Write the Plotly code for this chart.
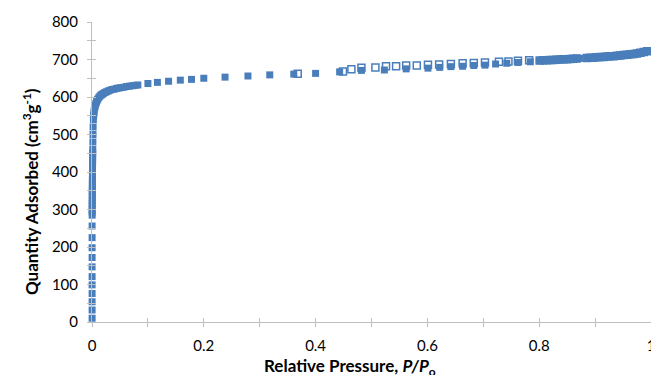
import plotly.graph_objects as go

# Adsorption branch (filled squares)
ads_p = [0.0002, 0.0002, 0.0002, 0.0002, 0.0002, 0.0002, 0.0002, 0.0002, 0.0002, 0.0002, 0.0002,
         0.0003, 0.0003, 0.0003, 0.0004, 0.0004, 0.0004, 0.0005, 0.0005, 0.0005, 0.0006, 0.0006,
         0.0007, 0.0007, 0.0008, 0.0008, 0.0009, 0.0010, 0.0011, 0.0012, 0.0013, 0.0014, 0.0016,
         0.0018, 0.0020,
         0.0025, 0.0030, 0.0035, 0.0040, 0.0050, 0.0060, 0.0070, 0.0080, 0.0090, 0.0100, 0.0120,
         0.0140, 0.0160, 0.0180, 0.0200, 0.0230, 0.0260, 0.0290, 0.0320, 0.0360, 0.0400, 0.0440,
         0.0480, 0.0520, 0.0570, 0.0620, 0.0670, 0.0720, 0.0770, 0.0820,
         0.100, 0.117, 0.137, 0.158, 0.178, 0.200, 0.238, 0.279, 0.318, 0.361, 0.400, 0.443,
         0.482, 0.523, 0.562, 0.601, 0.622, 0.642, 0.663, 0.683, 0.703, 0.722, 0.742, 0.762, 0.784,
         0.800, 0.806, 0.812, 0.818, 0.824, 0.830, 0.836, 0.842, 0.848, 0.854, 0.860, 0.866, 0.872,
         0.886, 0.893, 0.900, 0.906, 0.912, 0.918, 0.924, 0.930, 0.936, 0.942, 0.948, 0.954, 0.960,
         0.966, 0.972, 0.978, 0.984, 0.990, 0.995]
ads_q = [10, 32, 54, 76, 99, 121, 147, 172, 198, 225, 256,
         285, 293, 300, 308, 316, 324, 332, 340, 348, 356, 364,
         372, 380, 390, 400, 410, 420, 430, 440, 450, 460, 480,
         500, 520,
         540, 550, 558, 565, 572, 578, 583, 587, 591, 594, 598,
         602, 605, 607, 609, 612, 614, 616, 618, 620, 621, 623,
         624, 625, 626, 628, 629, 630, 631, 632,
         636, 639, 642, 645, 647, 650, 653, 656, 659, 661, 663, 667,
         671, 672, 675, 677, 679, 681, 682, 684, 685, 688, 690, 692, 694,
         697, 697.5, 698, 698.5, 699, 699.5, 700, 700.5, 701, 701.5, 702, 702.5, 703,
         704, 704.5, 705, 706, 707, 707.5, 708, 709, 710, 711, 712, 713, 714,
         715, 716, 718, 719, 721, 723]

# Desorption branch (open squares)
des_p = [0.993, 0.987, 0.981, 0.975, 0.969, 0.963, 0.957, 0.951, 0.945, 0.939, 0.933, 0.927,
         0.921, 0.915, 0.909, 0.903, 0.897, 0.891, 0.885, 0.867, 0.861, 0.855, 0.849, 0.843,
         0.837, 0.831, 0.825, 0.819, 0.813, 0.807, 0.801,
         0.782, 0.762, 0.745, 0.728, 0.703, 0.683, 0.663, 0.642, 0.621, 0.601, 0.581, 0.562,
         0.544, 0.526, 0.507, 0.482, 0.464, 0.449, 0.368]
des_q = [722, 720, 718, 716, 715, 714, 713, 712, 711, 710, 709, 708.5,
         708, 707, 706.5, 706, 705, 704.5, 704, 702.5, 702, 701.5, 701, 700.5,
         700, 699.5, 699, 698.5, 698, 698, 697.5,
         698, 697, 695, 694, 692, 691, 690, 688, 687, 686, 684, 684,
         682, 682, 679, 678, 674, 668, 662]

x_tickvals = [0, 0.1, 0.2, 0.3, 0.4, 0.5, 0.6, 0.7, 0.8, 0.9, 1.0]
x_ticktext = ["0", "", "0.2", "", "0.4", "", "0.6", "", "0.8", "", "1"]
y_tickvals = [0, 50, 100, 150, 200, 250, 300, 350, 400, 450, 500, 550, 600, 650, 700, 750, 800]
y_ticktext = ["0", "", "100", "", "200", "", "300", "", "400", "", "500", "", "600", "", "700", "", "800"]

x_title = "<b>Relative Pressure, <i>P/P</i><sub>o</sub></b>"
y_title = "<b>Quantity Adsorbed (cm<sup>3</sup>g<sup>-1</sup>)</b>"

blue = "#4A7EBB"
axis_col = "#BFBFBF"
font_fam = "Lato, 'Open Sans', sans-serif"

fig = go.Figure()
fig.add_trace(go.Scatter(x=ads_p, y=ads_q, mode="markers", cliponaxis=False,
                         marker=dict(symbol="square", size=7, color=blue), showlegend=False))
fig.add_trace(go.Scatter(x=des_p, y=des_q, mode="markers", cliponaxis=False,
                         marker=dict(symbol="square-open", size=7, color=blue,
                                     line=dict(width=1.5, color=blue)), showlegend=False))
# empty trace hosting the overlay axes that draw the inner half of the crossing ticks
fig.add_trace(go.Scatter(x=[None], y=[None], xaxis="x2", yaxis="y2", showlegend=False,
                         hoverinfo="skip"))

fig.update_layout(
    width=651, height=367,
    margin=dict(l=84, r=4, t=14, b=53),
    paper_bgcolor="white", plot_bgcolor="white",
    font=dict(family=font_fam, size=15, color="#000000"),
    xaxis=dict(range=[0, 1], tickvals=x_tickvals, ticktext=x_ticktext,
               showgrid=False, zeroline=False, showline=True, linecolor=axis_col, linewidth=1,
               ticks="outside", ticklen=4, tickcolor=axis_col, tickwidth=1,
               tickfont=dict(size=15), ticklabelstandoff=6, ticklabeloverflow="allow"),
    yaxis=dict(range=[0, 800], tickvals=y_tickvals, ticktext=y_ticktext,
               showgrid=False, zeroline=False, showline=True, linecolor=axis_col, linewidth=1,
               ticks="outside", ticklen=4, tickcolor=axis_col, tickwidth=1,
               tickfont=dict(size=15), ticklabelstandoff=6),
    xaxis2=dict(range=[0, 1], overlaying="x", anchor="y2", side="bottom", tickvals=x_tickvals,
                showticklabels=False, showgrid=False, zeroline=False, showline=False,
                ticks="inside", ticklen=4, tickcolor=axis_col, tickwidth=1),
    yaxis2=dict(range=[0, 800], overlaying="y", anchor="x2", side="left", tickvals=y_tickvals,
                showticklabels=False, showgrid=False, zeroline=False, showline=False,
                ticks="inside", ticklen=4, tickcolor=axis_col, tickwidth=1),
    annotations=[
        dict(text=x_title, xref="paper", yref="paper", x=0.4618, y=-0.15,
             xanchor="center", yanchor="middle", showarrow=False, font=dict(size=17)),
        dict(text=y_title, xref="paper", yref="paper", x=-0.110, y=0.435, textangle=-90,
             xanchor="center", yanchor="middle", showarrow=False, font=dict(size=17)),
    ],
)

fig.write_html("out.html")
